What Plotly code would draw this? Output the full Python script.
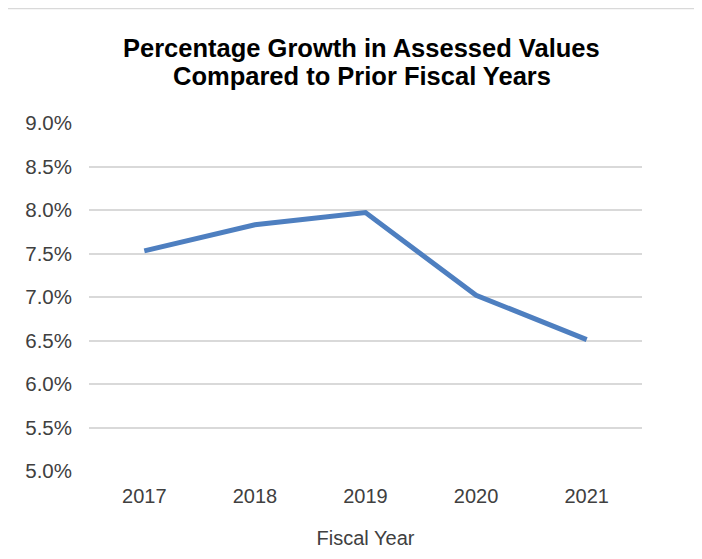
import plotly.graph_objects as go

years = ["2017", "2018", "2019", "2020", "2021"]
growth = [0.0753, 0.0783, 0.0797, 0.0702, 0.0651]
title_lines = ["Percentage Growth in Assessed Values", "Compared to Prior Fiscal Years"]

fig = go.Figure(go.Scatter(
    x=years, y=growth, mode="lines",
    line={"color": "#4E7FC0", "width": 5},
))

# title as two annotations so line spacing can be tighter than plotly's default
title_y = [1.2155, 1.1351]
annotations = [
    {"text": f"<b>{t}</b>", "xref": "paper", "yref": "paper",
     "x": 0.4928, "y": y, "xanchor": "center", "yanchor": "middle",
     "showarrow": False, "font": {"size": 25.5, "color": "black"}}
    for t, y in zip(title_lines, title_y)
]

# page body adds 8px offset, margins below compensate for it
fig.update_layout(
    width=702, height=559,
    margin={"l": 81, "r": 68, "t": 115, "b": 96},
    paper_bgcolor="white", plot_bgcolor="white",
    font={"family": "Arial, Liberation Sans, sans-serif", "color": "#404040", "size": 20},
    showlegend=False,
    annotations=annotations,
    xaxis={
        "type": "category", "range": [-0.5, 4.5],
        "showgrid": False, "showline": False, "zeroline": False,
        "ticks": "", "ticklabelstandoff": 11,
        "tickfont": {"size": 20},
        "title": {"text": "Fiscal Year", "standoff": 24, "font": {"size": 20}},
    },
    yaxis={
        "range": [0.05, 0.09], "dtick": 0.005, "tickformat": ".1%",
        "showgrid": True, "gridcolor": "#D9D9D9", "gridwidth": 1.5,
        "zeroline": False, "showline": False, "ticks": "",
        "ticklabelstandoff": 16, "tickfont": {"size": 20.5},
    },
    shapes=[{
        "type": "rect", "xref": "paper", "yref": "paper",
        "x0": -0.3, "x1": 1.103, "y0": -0.35, "y1": 1.329,
        "line": {"color": "#D9D9D9", "width": 1.5},
    }],
)

fig.write_html("out.html")
